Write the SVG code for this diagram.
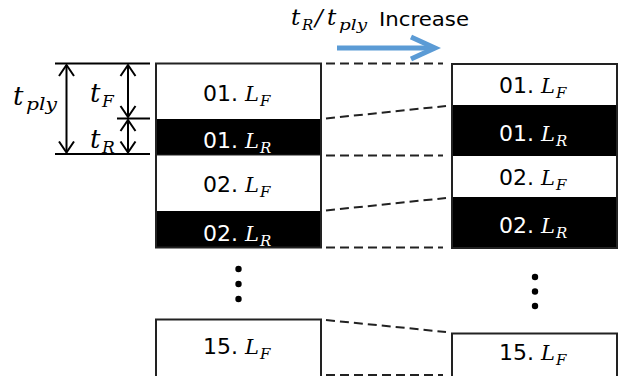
<svg xmlns="http://www.w3.org/2000/svg" width="620" height="376" viewBox="0 0 620 376">
<style>
.num{font-family:"DejaVu Sans","Noto Sans",sans-serif;font-size:22px}
.m{font-family:"DejaVu Serif","Liberation Serif",serif;font-style:italic}
.L{font-size:21px}
.sub{font-size:15px}
.w{fill:#000}
.b{fill:#fff}
.box{fill:none;stroke:#222;stroke-width:2}
.dash{stroke:#222;stroke-width:2;stroke-dasharray:9 5;fill:none}
.dim{stroke:#000;stroke-width:2;fill:none}
</style>
<defs>
<marker id="v" markerUnits="userSpaceOnUse" markerWidth="24" markerHeight="24" viewBox="-12 -12 24 24" refX="0" refY="0" orient="auto-start-reverse">
<path d="M-11,-7.5 L0,0 L-11,7.5" fill="none" stroke="#000" stroke-width="2"/>
</marker>
</defs>

<g id="title">
<text class="m" font-size="23" x="291" y="25">t</text>
<text class="m" font-size="15" x="302" y="30">R</text>
<text class="m" font-size="23" x="315" y="25">/</text>
<text class="m" font-size="23" x="327" y="25">t</text>
<text class="m" font-size="15" x="339" y="30" textLength="28" lengthAdjust="spacingAndGlyphs">ply</text>
<text font-family="DejaVu Sans,Noto Sans,sans-serif" font-size="20" x="379" y="26" textLength="90" lengthAdjust="spacingAndGlyphs">Increase</text>
<path d="M337,48 L433,48" stroke="#5B9BD5" stroke-width="5" fill="none"/>
<path d="M411,37 L435,48 L411,59" stroke="#5B9BD5" stroke-width="5" fill="none" stroke-linejoin="miter"/>
</g>

<g id="dimensions">
<line class="dim" x1="55" y1="63.5" x2="150" y2="63.5"/>
<line class="dim" x1="117" y1="118.5" x2="150" y2="118.5"/>
<line class="dim" x1="55" y1="154" x2="150" y2="154"/>
<line class="dim" x1="66.5" y1="65" x2="66.5" y2="152.5" marker-start="url(#v)" marker-end="url(#v)"/>
<line class="dim" x1="128" y1="65" x2="128" y2="117" marker-start="url(#v)" marker-end="url(#v)"/>
<line class="dim" x1="128" y1="120" x2="128" y2="152.5" marker-start="url(#v)" marker-end="url(#v)"/>
<text class="m" font-size="26" x="13" y="105">t</text>
<text class="m" font-size="17" x="26" y="110" textLength="31" lengthAdjust="spacingAndGlyphs">ply</text>
<text class="m" font-size="26" x="90" y="102">t</text>
<text class="m" font-size="17" x="102" y="107">F</text>
<text class="m" font-size="26" x="90" y="148">t</text>
<text class="m" font-size="17" x="102" y="153">R</text>
</g>

<g id="connectors">
<line class="dash" x1="326" y1="63.5" x2="443" y2="63.5"/>
<line class="dash" x1="326" y1="118.5" x2="446" y2="106"/>
<line class="dash" x1="326" y1="155.5" x2="443" y2="155.5"/>
<line class="dash" x1="326" y1="210.5" x2="446" y2="198"/>
<line class="dash" x1="326" y1="247.5" x2="443" y2="247.5"/>
<line class="dash" x1="326" y1="320" x2="446" y2="332"/>
<line class="dash" x1="326" y1="375" x2="443" y2="375"/>
</g>

<g id="left-stack">
<rect x="156" y="119" width="165" height="36" fill="#000"/>
<rect x="156" y="211" width="165" height="36" fill="#000"/>
<rect class="box" x="156" y="63.5" width="165" height="184"/>
<line x1="156" y1="155" x2="321" y2="155" stroke="#222" stroke-width="1"/>
<g id="L01F"><text class="num w" x="203" y="101">01.</text><text class="m L w" x="245" y="101">L</text><text class="m sub w" x="260" y="106">F</text></g>
<g id="L01R"><text class="num b" x="203" y="148">01.</text><text class="m L b" x="245" y="148">L</text><text class="m sub b" x="260" y="153">R</text></g>
<g id="L02F"><text class="num w" x="203" y="192">02.</text><text class="m L w" x="245" y="192">L</text><text class="m sub w" x="260" y="197">F</text></g>
<g id="L02R"><text class="num b" x="203" y="240.5">02.</text><text class="m L b" x="245" y="240.5">L</text><text class="m sub b" x="260" y="245.5">R</text></g>
<circle cx="238.5" cy="269" r="3.2"/>
<circle cx="238.5" cy="284" r="3.2"/>
<circle cx="238.5" cy="299" r="3.2"/>
<g id="L15F"><rect class="box" x="156" y="319.5" width="165" height="70"/><text class="num w" x="203" y="354">15.</text><text class="m L w" x="245" y="354">L</text><text class="m sub w" x="260" y="359">F</text></g>
</g>

<g id="right-stack">
<rect x="452" y="105" width="165" height="51" fill="#000"/>
<rect x="452" y="197" width="165" height="51" fill="#000"/>
<rect class="box" x="452" y="64" width="165" height="184"/>
<g id="R01F"><text class="num w" x="499" y="93">01.</text><text class="m L w" x="541" y="93">L</text><text class="m sub w" x="556" y="98">F</text></g>
<g id="R01R"><text class="num b" x="499" y="141">01.</text><text class="m L b" x="541" y="141">L</text><text class="m sub b" x="556" y="146">R</text></g>
<g id="R02F"><text class="num w" x="499" y="185">02.</text><text class="m L w" x="541" y="185">L</text><text class="m sub w" x="556" y="190">F</text></g>
<g id="R02R"><text class="num b" x="499" y="233">02.</text><text class="m L b" x="541" y="233">L</text><text class="m sub b" x="556" y="238">R</text></g>
<circle cx="535" cy="277" r="3.2"/>
<circle cx="535" cy="291.5" r="3.2"/>
<circle cx="535" cy="306" r="3.2"/>
<g id="R15F"><rect class="box" x="452" y="333.5" width="165" height="60"/><text class="num w" x="499" y="360">15.</text><text class="m L w" x="541" y="360">L</text><text class="m sub w" x="556" y="365">F</text></g>
</g>
</svg>
